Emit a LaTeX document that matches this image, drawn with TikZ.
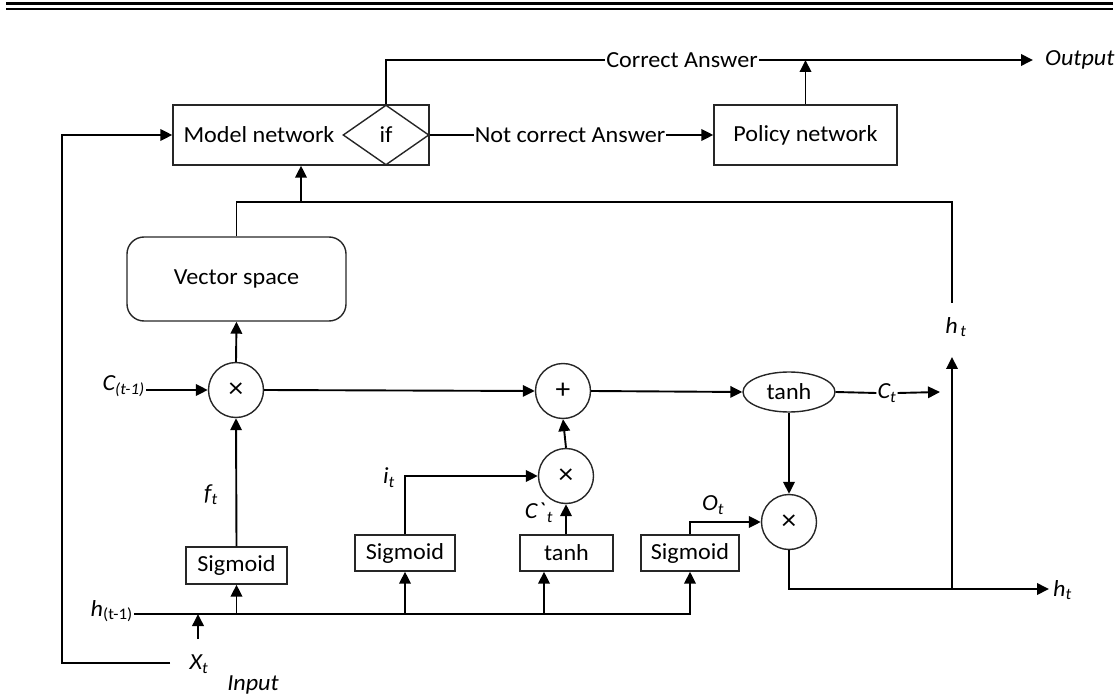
\documentclass[tikz,border=0pt]{standalone}
\usepackage{fontspec}
\setmainfont{Carlito}[FakeStretch=1.05]
\usetikzlibrary{arrows.meta,shapes.geometric}

\tikzset{
  conn/.style={line width=1.9pt, draw=black},
  arr/.style={conn, -{Triangle[length=12pt,width=11.5pt]}},
  blockbox/.style={draw=black!85, line width=1.4pt, rectangle, inner sep=0pt},
  opnode/.style={draw=black!85, line width=1.4pt, circle, minimum size=55pt, inner sep=0pt},
  lbl/.style={inner sep=1pt},
  itlbl/.style={inner sep=1pt, font=\fontsize{23}{27}\selectfont\itshape},
  timesmark/.style={font=\fontsize{28}{30}\selectfont},
  rule/.style={line width=2.2pt, black}
}

\begin{document}
\begin{tikzpicture}[x=1pt, y=-1pt, font=\fontsize{23}{27}\selectfont]
\useasboundingbox (0,0) rectangle (1116,700);

% double rule at the head of the page
\draw[rule] (6,3.6) -- (1113,3.6);
\draw[rule] (6,9.2) -- (1113,9.2);

% ---- decision layer ----
\node[blockbox, minimum width=256pt, minimum height=60pt] (model) at (301,135) {};
\node[lbl] (mtxt) at (259,135) {Model network};
\node[draw=black!85, line width=1.4pt, diamond, minimum width=86pt, minimum height=60pt, inner sep=0pt] (if) at (386,135) {if};
\node[blockbox, minimum width=183pt, minimum height=60pt] (pol) at (805.5,135) {Policy network};

\node[lbl] (ca) at (682,60) {Correct Answer};
\node[lbl] (nc) at (570,135) {Not correct Answer};
\node[itlbl, anchor=west, inner sep=0pt] (out) at (1045,60) {Output};

\draw[conn] (if.north) |- (ca.west);
\draw[arr] (ca.east) -- ([xshift=-12pt]out.west);
\draw[conn] (if.east) -- (nc.west);
\draw[arr] (nc.east) -- (pol.west);
\draw[arr] (pol.north) -- (pol.north |- ca.east);

% ---- vector space ----
\node[blockbox, rounded corners=17pt, minimum width=219pt, minimum height=84pt] (vs) at (236.5,279) {Vector space};

% ---- LSTM cell ----
\node[opnode, timesmark] (fx) at (236,390) {×};
\node[opnode, timesmark] (plus) at (563,391) {+};
\node[opnode, timesmark] (ix) at (566,476) {×};
\node[opnode, timesmark] (ox) at (789,522) {×};
\node[draw=black!85, line width=1.4pt, ellipse, minimum width=92pt, minimum height=40pt, inner sep=0pt] (th) at (789,392) {tanh};

\node[blockbox, minimum width=101pt, minimum height=37pt] (sg1) at (236.5,565.5) {Sigmoid};
\node[blockbox, minimum width=100pt, minimum height=36pt] (sg2) at (405,553) {Sigmoid};
\node[blockbox, minimum width=93pt, minimum height=36pt] (tb) at (566.5,553) {tanh};
\node[blockbox, minimum width=98pt, minimum height=36pt] (sg3) at (690,553) {Sigmoid};

% labels
\node[itlbl, anchor=east] (cprev) at (146,386) {C\textsubscript{(t-1)}};
\node[lbl, anchor=east] (hprev) at (134,611) {\textit{h}\textsubscript{(t-1)}};
\node[itlbl] (ft) at (211,495) {f\textsubscript{t}};
\node[itlbl] (it) at (389,478) {i\textsubscript{t}};
\node[itlbl] (cbt) at (539,513) {C\textasciigrave\textsubscript{\,t}};
\node[itlbl] (ot) at (713,505) {O\textsubscript{t}};
\node[itlbl] (ct) at (887,393) {C\textsubscript{t}};
\node[itlbl] (htup) at (956,327) {h\textsubscript{\,t}};
\node[itlbl, anchor=west] (htr) at (1052,590) {h\textsubscript{t}};
\node[itlbl] (xt) at (199,664) {X\textsubscript{t}};
\node[itlbl] (inp) at (253,685) {Input};

% input bus h(t-1)
\coordinate (busR) at (690,614);
\coordinate (tbx) at (544,614);
\coordinate (xin) at (198,639);
\draw[arr] (hprev.east |- busR) -- (busR) -- (sg3.south);
\draw[arr] (sg1.south |- busR) -- (sg1.south);
\draw[arr] (sg2.south |- busR) -- (sg2.south);
\draw[arr] (tbx) -- (tbx |- tb.south);
\draw[arr] (xin) -- (xin |- busR);

% feedback of the input into the model network
\coordinate (fbL) at (170,663);
\coordinate (fbC) at (62,663);
\draw[arr] (fbL) -- (fbC) |- (model.west);

% gates
\draw[arr] (sg1.north) -- (fx.south);
\draw[arr] (cprev.east |- fx.west) -- (fx.west);
\draw[arr] (fx.north) -- (vs.south);
\draw[arr] (fx.east) -- (plus.west);
\draw[arr] (plus.east) -- (th.west);
\draw[arr] (ix.north) -- (plus.south);
\draw[arr] (sg2.north) |- (ix.west);
\draw[arr] (tb.north -| ix.south) -- (ix.south);
\draw[arr] (sg3.north) |- (ox.west);
\draw[arr] (th.south) -- (ox.north);

% cell state out
\coordinate (ctend) at (940,392);
\draw[conn] (th.east) -- (ct.west);
\draw[arr] (ct.east) -- (ctend);

% hidden state out
\coordinate (hout) at (1049,589);
\coordinate (hb) at (952,589);
\coordinate (ha) at (952,357);
\draw[arr] (ox.south) |- (hout);
\draw[arr] (hb) -- (ha);

% vector space and h_t back into the model network
\coordinate (join) at (301,202);
\coordinate (htop) at (952,303);
\draw[conn] (vs.north) |- (join);
\draw[conn] (htop) |- (join);
\draw[arr] (join) -- (model.south);
\end{tikzpicture}
\end{document}
